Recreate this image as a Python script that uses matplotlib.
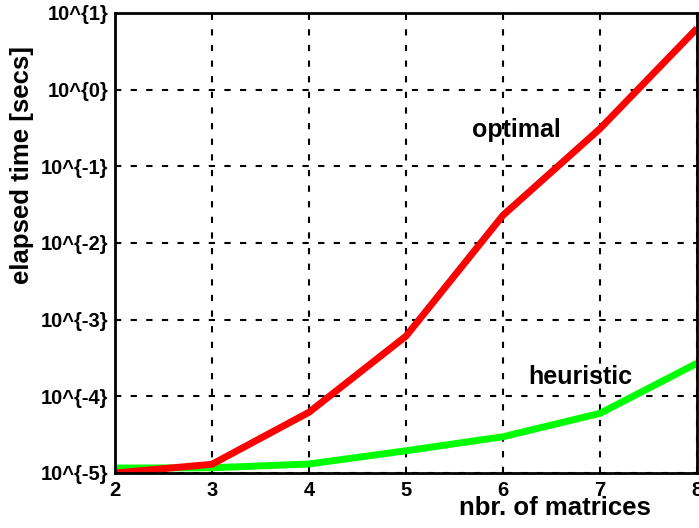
import matplotlib
matplotlib.use("Agg")
import matplotlib.pyplot as plt

n_matrices = [2, 3, 4, 5, 6, 7, 8]
optimal = [1.0e-5, 1.3e-5, 6.2e-5, 6.1e-4, 2.3e-2, 0.31, 6.3]
heuristic = [1.16e-5, 1.17e-5, 1.31e-5, 1.95e-5, 2.97e-5, 6.0e-5, 2.7e-4]
y_ticks = [1e-5, 1e-4, 1e-3, 1e-2, 1e-1, 1e0, 1e1]
y_tick_labels = ["10^{-5}", "10^{-4}", "10^{-3}", "10^{-2}", "10^{-1}", "10^{0}", "10^{1}"]

plt.rcParams["font.family"] = ["Liberation Sans", "DejaVu Sans"]
plt.rcParams["font.weight"] = "bold"

fig = plt.figure(figsize=(6.99, 5.28), dpi=100)
ax = fig.add_axes([115 / 699, 1 - 473 / 528, (697 - 115) / 699, (473 - 13) / 528])

ax.plot(n_matrices, heuristic, color="#00ff00", linewidth=5, solid_capstyle="butt")
ax.plot(n_matrices, optimal, color="#ff0000", linewidth=5, solid_capstyle="butt")

ax.set_yscale("log")
ax.set_xlim(2, 8)
ax.set_ylim(1e-5, 1e1)
ax.set_xticks(n_matrices)
ax.set_yticks(y_ticks)
ax.set_yticklabels(y_tick_labels)
ax.minorticks_off()
ax.tick_params(axis="both", length=0, labelsize=14.5)
ax.tick_params(axis="y", pad=5)
ax.tick_params(axis="x", pad=6)
for lbl in ax.get_xticklabels() + ax.get_yticklabels():
    lbl.set_fontweight("bold")

ax.grid(True, color="black", linestyle=(0, (3, 4.5)), linewidth=1.5)
for s in ax.spines.values():
    s.set_linewidth(2)

ax.text(6.14, 0.30, "optimal", fontsize=18, fontweight="bold", ha="center", va="center")
ax.text(6.80, 1.8e-4, "heuristic", fontsize=18, fontweight="bold", ha="center", va="center")

fig.text(555 / 699, 1 - 508 / 528, "nbr. of matrices", fontsize=18.5, fontweight="bold",
         ha="center", va="center")
fig.text(22 / 699, 1 - 165 / 528, "elapsed time [secs]", fontsize=18.5, fontweight="bold",
         ha="center", va="center", rotation=90)

fig.savefig("out.png", dpi=100)
